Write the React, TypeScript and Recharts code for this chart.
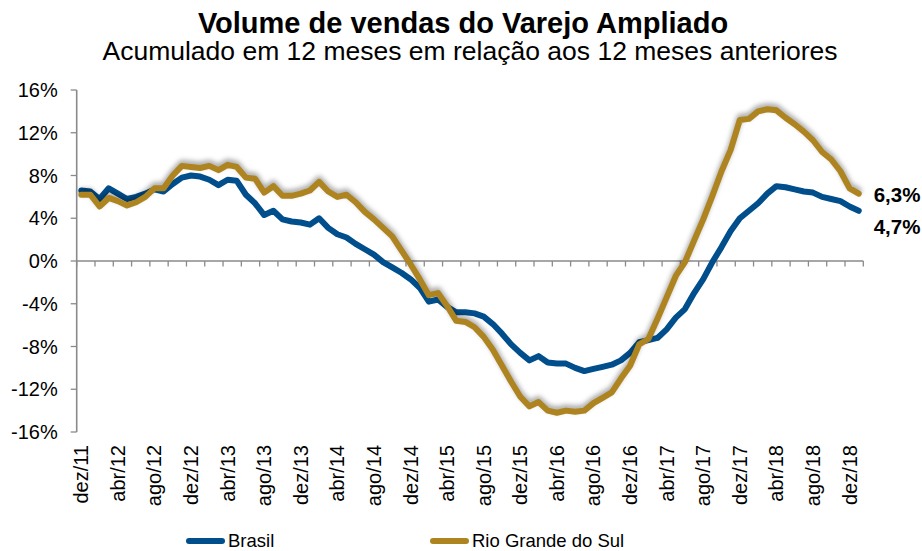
import React from 'react';
import { LineChart, Line, XAxis, YAxis, ReferenceLine, LabelList } from 'recharts';

const months = (
  'dez/11 jan/12 fev/12 mar/12 abr/12 mai/12 jun/12 jul/12 ago/12 set/12 out/12 nov/12 dez/12 ' +
  'jan/13 fev/13 mar/13 abr/13 mai/13 jun/13 jul/13 ago/13 set/13 out/13 nov/13 dez/13 ' +
  'jan/14 fev/14 mar/14 abr/14 mai/14 jun/14 jul/14 ago/14 set/14 out/14 nov/14 dez/14 ' +
  'jan/15 fev/15 mar/15 abr/15 mai/15 jun/15 jul/15 ago/15 set/15 out/15 nov/15 dez/15 ' +
  'jan/16 fev/16 mar/16 abr/16 mai/16 jun/16 jul/16 ago/16 set/16 out/16 nov/16 dez/16 ' +
  'jan/17 fev/17 mar/17 abr/17 mai/17 jun/17 jul/17 ago/17 set/17 out/17 nov/17 dez/17 ' +
  'jan/18 fev/18 mar/18 abr/18 mai/18 jun/18 jul/18 ago/18 set/18 out/18 nov/18 dez/18 jan/19'
).split(' ');

const labeledMonths = [
  'dez/11', 'abr/12', 'ago/12', 'dez/12', 'abr/13', 'ago/13', 'dez/13', 'abr/14', 'ago/14', 'dez/14', 'abr/15',
  'ago/15', 'dez/15', 'abr/16', 'ago/16', 'dez/16', 'abr/17', 'ago/17', 'dez/17', 'abr/18', 'ago/18', 'dez/18',
];

const brasil = [
  6.6, 6.5, 5.8, 6.8, 6.3, 5.8, 6.0, 6.3, 6.7, 6.5,
  7.2, 7.8, 8.0, 7.9, 7.6, 7.1, 7.6, 7.5, 6.2, 5.4,
  4.3, 4.7, 3.9, 3.7, 3.6, 3.4, 4.0, 3.1, 2.5, 2.2,
  1.6, 1.1, 0.6, -0.1, -0.6, -1.1, -1.7, -2.5, -3.8, -3.6,
  -4.3, -4.8, -4.8, -4.9, -5.2, -5.9, -6.8, -7.8, -8.6, -9.3,
  -8.9, -9.5, -9.6, -9.6, -10.0, -10.3, -10.1, -9.9, -9.7, -9.3,
  -8.6, -7.6, -7.4, -7.2, -6.4, -5.3, -4.5, -3.0, -1.7, -0.1,
  1.3, 2.8, 4.0, 4.7, 5.4, 6.3, 7.0, 6.9, 6.7, 6.5,
  6.4, 6.0, 5.8, 5.6, 5.1, 4.7,
];

const rioGrandeDoSul = [
  6.2, 6.2, 5.1, 5.9, 5.6, 5.2, 5.5, 6.0, 6.8, 6.8,
  8.0, 8.9, 8.8, 8.7, 8.9, 8.5, 9.0, 8.8, 7.8, 7.7,
  6.4, 7.0, 6.1, 6.1, 6.3, 6.6, 7.4, 6.5, 6.0, 6.2,
  5.5, 4.6, 3.9, 3.1, 2.3, 1.0, -0.3, -1.7, -3.2, -3.0,
  -4.2, -5.6, -5.7, -6.2, -7.1, -8.3, -9.8, -11.3, -12.7, -13.6,
  -13.2, -14.0, -14.2, -14.0, -14.1, -14.0, -13.3, -12.8, -12.3, -11.0,
  -9.8, -7.8, -7.3, -5.4, -3.4, -1.4, -0.1, 1.9, 3.9, 6.1,
  8.4, 10.4, 13.2, 13.3, 14.0, 14.2, 14.1, 13.4, 12.8, 12.1,
  11.3, 10.2, 9.5, 8.4, 6.8, 6.3,
];

const yTicks = [-16, -12, -8, -4, 0, 4, 8, 12, 16];

const seriesNames = ['Brasil', 'Rio Grande do Sul'];
const seriesColors = ['#004E8C', '#AD841F'];

const data = months.map((m, i) => ({ month: m, brasil: brasil[i], rs: rioGrandeDoSul[i] }));

const FONT = '"Liberation Sans", Arial, Helvetica, sans-serif';
const W = 922;
const H = 551;
const MARGIN = { top: 90, right: 58.7, bottom: 39, left: 16.7 };
const Y_AXIS_W = 60;
const X_AXIS_H = 80;
const plotW = W - MARGIN.left - MARGIN.right - Y_AXIS_W;
const halfBand = plotW / (2 * months.length);
const AXIS_COLOR = '#8A8A8A';

const XTick = (props: any) => {
  const { x, y, payload } = props;
  if (!labeledMonths.includes(payload.value)) return null;
  return (
    <text
      transform={`translate(${x},${y + 13}) rotate(-90)`}
      textAnchor="end"
      dy="0.35em"
      fontSize={20}
      fill="#000"
      fontFamily={FONT}
    >
      {payload.value}
    </text>
  );
};

const ZeroAxis = (props: any) => {
  const { x1, x2, y1 } = props;
  const left = Math.min(x1, x2);
  const right = Math.max(x1, x2);
  const band = (right - left) / months.length;
  const ticks: number[] = [];
  for (let i = 0; i <= months.length; i += 2) ticks.push(left + band * i);
  return (
    <g>
      <line x1={left} x2={right} y1={y1} y2={y1} stroke={AXIS_COLOR} strokeWidth={1.6} />
      {ticks.map((tx, i) => (
        <line key={i} x1={tx} x2={tx} y1={y1} y2={y1 + 5.5} stroke={AXIS_COLOR} strokeWidth={1.3} />
      ))}
    </g>
  );
};

const fmt = (v: number) => `${v.toFixed(1).replace('.', ',')}%`;

const makeEndLabel = (dy: number) => (props: any) => {
  const { x, y, value, index } = props;
  if (index !== months.length - 1) return null;
  return (
    <text x={x + 15} y={y + dy} dy="0.35em" fontSize={20.5} fontWeight="bold" fill="#000" fontFamily={FONT}>
      {fmt(value)}
    </text>
  );
};

export default function App() {
  return (
    <div style={{ position: 'absolute', left: 0, top: 0, width: W, height: H, background: '#fff', fontFamily: FONT }}>
      <style>{`.gold-line .recharts-line-curve { filter: drop-shadow(0px -3px 2.5px rgba(0,0,0,0.35)); }`}</style>
      <div
        style={{
          position: 'absolute', left: 0, width: 926, top: 8.5, textAlign: 'center',
          fontSize: 29, lineHeight: '28px', fontWeight: 'bold', color: '#000', whiteSpace: 'nowrap',
        }}
      >
        Volume de vendas do Varejo Ampliado
      </div>
      <div
        style={{
          position: 'absolute', left: 0, width: 940, top: 38, textAlign: 'center',
          fontSize: 26.5, lineHeight: '26px', color: '#000', whiteSpace: 'nowrap',
        }}
      >
        Acumulado em 12 meses em relação aos 12 meses anteriores
      </div>
      <div style={{ position: 'absolute', left: 0, top: 0 }}>
        <LineChart width={W} height={H} data={data} margin={MARGIN}>
          <XAxis
            dataKey="month"
            type="category"
            interval={0}
            axisLine={false}
            tickLine={false}
            tickSize={0}
            tickMargin={0}
            height={X_AXIS_H}
            padding={{ left: halfBand, right: halfBand }}
            tick={<XTick />}
          />
          <YAxis
            domain={[-16, 16]}
            ticks={yTicks}
            width={Y_AXIS_W}
            tickFormatter={(v: number) => `${v}%`}
            axisLine={{ stroke: AXIS_COLOR, strokeWidth: 1.6 }}
            tickLine={{ stroke: AXIS_COLOR, strokeWidth: 1.3 }}
            tickSize={6}
            tickMargin={13}
            tick={{ fontSize: 20, fill: '#000', fontFamily: FONT }}
            allowDataOverflow
          />
          <ReferenceLine y={0} shape={ZeroAxis} />
          <Line
            type="linear"
            dataKey="brasil"
            name={seriesNames[0]}
            stroke={seriesColors[0]}
            strokeWidth={6}
            strokeLinejoin="round"
            strokeLinecap="round"
            dot={false}
            activeDot={false}
            isAnimationActive={false}
          >
            <LabelList dataKey="brasil" content={makeEndLabel(16)} />
          </Line>
          <Line
            className="gold-line"
            type="linear"
            dataKey="rs"
            name={seriesNames[1]}
            stroke={seriesColors[1]}
            strokeWidth={6}
            strokeLinejoin="round"
            strokeLinecap="round"
            dot={false}
            activeDot={false}
            isAnimationActive={false}
          >
            <LabelList dataKey="rs" content={makeEndLabel(1)} />
          </Line>
        </LineChart>
      </div>
      {seriesNames.map((name, i) => (
        <div
          key={name}
          style={{
            position: 'absolute', left: i === 0 ? 186 : 430, top: 531, height: 19,
            display: 'flex', alignItems: 'center', whiteSpace: 'nowrap',
          }}
        >
          <div style={{ width: 39, height: 6, borderRadius: 3, background: seriesColors[i], marginRight: 3 }} />
          <span style={{ fontSize: 18.5, color: '#000', lineHeight: '19px' }}>{name}</span>
        </div>
      ))}
    </div>
  );
}
